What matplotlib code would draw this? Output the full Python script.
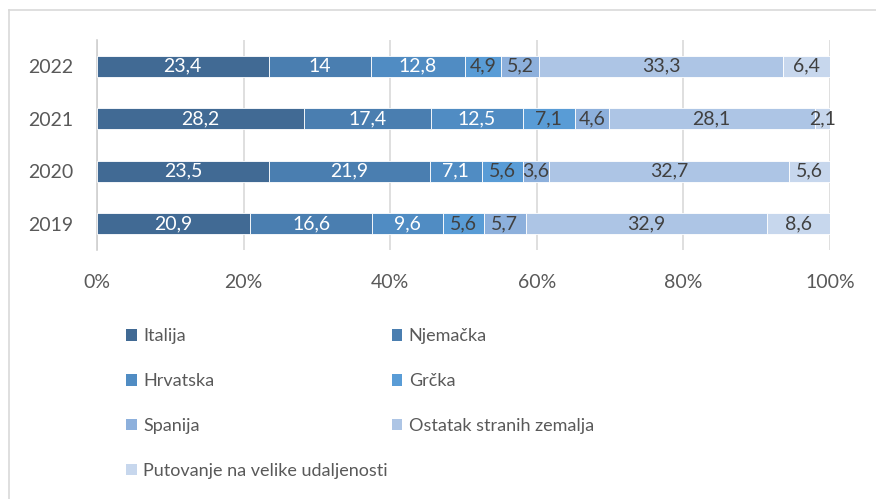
import matplotlib
matplotlib.use('Agg')
import matplotlib.pyplot as plt
from matplotlib.patches import Patch
from matplotlib.lines import Line2D
import numpy as np

plt.rcParams['font.family'] = ['Lato', 'DejaVu Sans']

godine = ["2019", "2020", "2021", "2022"]
serije = ["Italija", "Njemačka", "Hrvatska", "Grčka", "Spanija",
          "Ostatak stranih zemalja", "Putovanje na velike udaljenosti"]
vrijednosti = {
    "Italija":                          [20.9, 23.5, 28.2, 23.4],
    "Njemačka":                         [16.6, 21.9, 17.4, 14],
    "Hrvatska":                         [9.6, 7.1, 12.5, 12.8],
    "Grčka":                            [5.6, 5.6, 7.1, 4.9],
    "Spanija":                          [5.7, 3.6, 4.6, 5.2],
    "Ostatak stranih zemalja":          [32.9, 32.7, 28.1, 33.3],
    "Putovanje na velike udaljenosti":  [8.6, 5.6, 2.1, 6.4],
}
boje = ["#416A94", "#4A7EB0", "#508CC3", "#599CD6", "#8DB0DC", "#ADC5E5", "#C7D7ED"]
boje_teksta = ["white", "white", "white", "#404040", "#404040", "#404040", "#404040"]
siva = "#595959"
fs = 14

fig = plt.figure(figsize=(8.76, 4.99), dpi=100)
ax = fig.add_axes([97 / 876, 1 - 250 / 499, 733 / 876, 210 / 499])

ukupno = np.sum([vrijednosti[s] for s in serije], axis=0)
y = np.arange(len(godine))
lijevo = np.zeros(len(godine))
for s, boja, bt in zip(serije, boje, boje_teksta):
    v = np.array(vrijednosti[s])
    udio = v / ukupno * 100
    bars = ax.barh(y, udio, left=lijevo, height=0.4, color=boja,
                   edgecolor="white", linewidth=0.6, zorder=3)
    lbl = [f"{x:g}".replace(".", ",") for x in v]
    ax.bar_label(bars, labels=lbl, label_type="center", color=bt, fontsize=fs, zorder=4)
    lijevo += udio

ax.set_xlim(0, 100)
ax.set_ylim(-0.5, len(godine) - 0.5)
ax.set_xticks(np.arange(0, 101, 20))
ax.set_xticklabels([f"{t}%" for t in range(0, 101, 20)])
ax.set_yticks(y)
ax.set_yticklabels(godine)
ax.tick_params(axis="both", length=0, labelsize=fs, colors=siva)
ax.tick_params(axis="x", pad=17)
ax.tick_params(axis="y", pad=17)
ax.grid(axis="x", color="#D9D9D9", linewidth=1.2, zorder=0)
for side in ["top", "right", "bottom"]:
    ax.spines[side].set_visible(False)
ax.spines["left"].set_color("#D0D0D0")
ax.spines["left"].set_linewidth(1.2)

# legend: row-wise order in 2 columns
red = [0, 2, 4, 6, 1, 3, 5]
handles = [Patch(facecolor=boje[i], edgecolor="none") for i in red]
labels = [serije[i] for i in red]
fig.legend(handles, labels, ncol=2, loc="upper left",
           bbox_to_anchor=(110 / 876, 1 - 312 / 499), frameon=False,
           fontsize=13, labelcolor=siva, handlelength=0.6, handleheight=0.6,
           handletextpad=0.35, labelspacing=1.6, columnspacing=0.2)

# outer frame (left and top only)
fig.add_artist(Line2D([8.5 / 876, 8.5 / 876], [0, 1 - 10 / 499], color="#D9D9D9", linewidth=1.2))
fig.add_artist(Line2D([8.5 / 876, 1], [1 - 10 / 499, 1 - 10 / 499], color="#D9D9D9", linewidth=1.2))

fig.savefig("out.png", dpi=100)
